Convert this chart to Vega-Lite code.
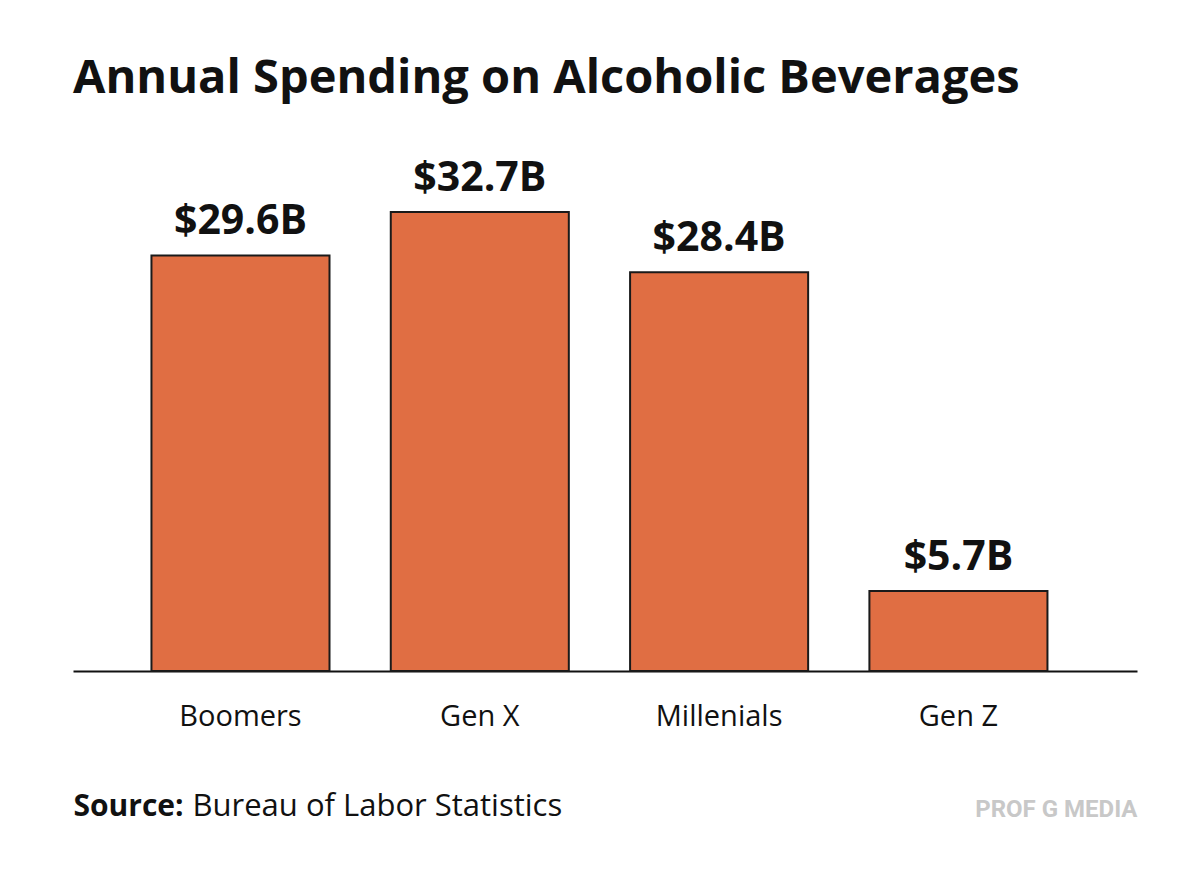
{
  "$schema": "https://vega.github.io/schema/vega-lite/v6.json",
  "width": 1064,
  "height": 511,
  "autosize": "none",
  "padding": {"left": 73, "top": 160, "right": 63, "bottom": 204},
  "background": "white",
  "config": {"view": {"stroke": null}},
  "title": {
    "text": "Annual Spending on Alcoholic Beverages",
    "anchor": "start",
    "frame": "group",
    "font": "Open Sans",
    "fontSize": 47,
    "fontWeight": "bold",
    "color": "#111111",
    "baseline": "alphabetic",
    "offset": 18
  },
  "data": {
    "values": [
      {"generation": "Boomers", "spending": 29.6},
      {"generation": "Gen X", "spending": 32.7},
      {"generation": "Millenials", "spending": 28.4},
      {"generation": "Gen Z", "spending": 5.7}
    ]
  },
  "transform": [
    {"calculate": "'$' + format(datum.spending, '.1f') + 'B'", "as": "label"}
  ],
  "encoding": {
    "x": {
      "field": "generation",
      "type": "nominal",
      "sort": null,
      "scale": {"paddingInner": 0.256, "paddingOuter": 0.351, "align": 0.467},
      "axis": {
        "labelAngle": 0,
        "labelFont": "Open Sans",
        "labelFontSize": 29,
        "labelColor": "#111111",
        "labelBaseline": "alphabetic",
        "labelPadding": 54,
        "ticks": false,
        "grid": false,
        "domainColor": "#111111",
        "domainWidth": 2,
        "title": "Bureau of Labor Statistics",
        "titleFont": "Open Sans",
        "titleFontSize": 31,
        "titleFontWeight": "normal",
        "titleColor": "#111111",
        "titleAnchor": "start",
        "titleAlign": "left",
        "titleBaseline": "alphabetic",
        "titleX": 119,
        "titleY": 144
      }
    }
  },
  "layer": [
    {
      "mark": {"type": "bar", "fill": "#E06E43", "stroke": "#1a1a1a", "strokeWidth": 2},
      "encoding": {
        "y": {
          "field": "spending",
          "type": "quantitative",
          "scale": {"domain": [0, 36.4], "nice": false},
          "axis": {
            "orient": "left",
            "domain": false,
            "labels": false,
            "ticks": false,
            "grid": false,
            "title": "Source:",
            "titleFont": "Open Sans",
            "titleFontSize": 30,
            "titleFontWeight": "bold",
            "titleColor": "#111111",
            "titleAngle": 0,
            "titleAlign": "left",
            "titleBaseline": "alphabetic",
            "titleX": 0,
            "titleY": 655
          }
        }
      }
    },
    {
      "mark": {
        "type": "text",
        "font": "Open Sans",
        "fontSize": 41,
        "fontWeight": "bold",
        "color": "#111111",
        "baseline": "alphabetic",
        "dy": -21
      },
      "encoding": {
        "text": {"field": "label"},
        "y": {
          "field": "spending",
          "type": "quantitative",
          "scale": {"domain": [0, 36.4], "nice": false},
          "axis": {
            "orient": "right",
            "domain": false,
            "labels": false,
            "ticks": false,
            "grid": false,
            "title": "PROF G MEDIA",
            "titleFont": "Roboto",
            "titleFontSize": 24,
            "titleFontWeight": "bold",
            "titleColor": "#c8c8c8",
            "titleAngle": 0,
            "titleAlign": "right",
            "titleBaseline": "alphabetic",
            "titleX": 0,
            "titleY": 656
          }
        }
      }
    }
  ],
  "resolve": {"axis": {"y": "independent"}}
}
